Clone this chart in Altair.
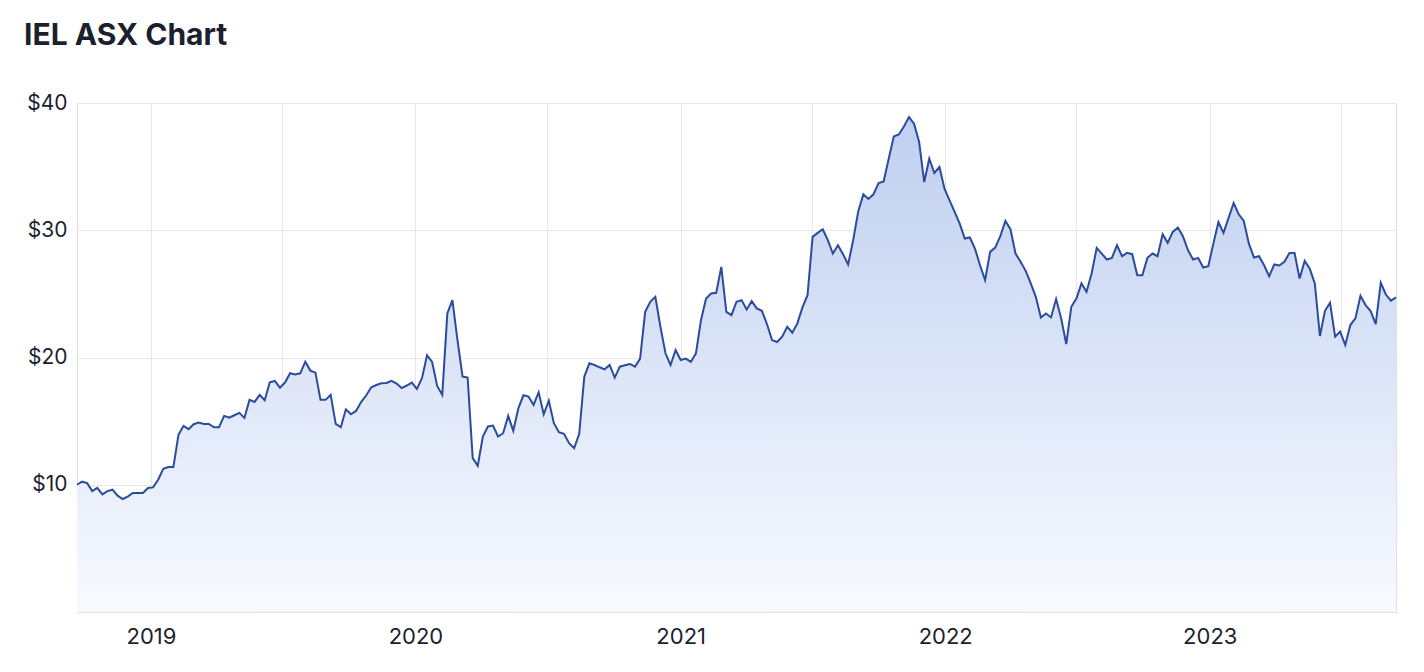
import altair as alt
import pandas as pd

# Weekly closing prices (AUD), first week ending 2018-09-21
start_date = "2018-09-21"
prices = [
    10.00, 10.24, 10.13, 9.50, 9.76, 9.24, 9.50, 9.61, 9.14, 8.88,
    9.07, 9.35, 9.35, 9.35, 9.74, 9.79, 10.39, 11.25, 11.39, 11.39,
    13.92, 14.63, 14.37, 14.76, 14.89, 14.78, 14.78, 14.52, 14.52, 15.41,
    15.28, 15.46, 15.65, 15.25, 16.67, 16.51, 17.06, 16.64, 18.05, 18.16,
    17.63, 18.03, 18.76, 18.66, 18.76, 19.67, 18.97, 18.81, 16.67, 16.67,
    17.06, 14.78, 14.52, 15.93, 15.54, 15.80, 16.50, 17.01, 17.66, 17.84,
    17.97, 18.00, 18.16, 17.95, 17.60, 17.80, 18.03, 17.53, 18.37, 20.17,
    19.65, 17.76, 17.06, 23.46, 24.51, 21.37, 18.50, 18.42, 12.09, 11.49,
    13.79, 14.58, 14.65, 13.79, 14.05, 15.41, 14.24, 16.01, 17.03, 16.93,
    16.27, 17.27, 15.54, 16.61, 14.84, 14.13, 14.00, 13.27, 12.88, 14.00,
    18.50, 19.54, 19.41, 19.23, 19.07, 19.41, 18.42, 19.28, 19.39, 19.49,
    19.28, 19.91, 23.59, 24.38, 24.77, 22.42, 20.33, 19.41, 20.59, 19.80,
    19.91, 19.65, 20.33, 22.94, 24.64, 25.03, 25.08, 27.12, 23.59, 23.33,
    24.38, 24.51, 23.78, 24.43, 23.86, 23.67, 22.63, 21.37, 21.22, 21.63,
    22.42, 21.95, 22.68, 23.94, 24.90, 29.48, 29.79, 30.08, 29.22, 28.17,
    28.82, 28.12, 27.31, 29.22, 31.49, 32.82, 32.46, 32.82, 33.71, 33.84,
    35.62, 37.37, 37.53, 38.16, 38.89, 38.37, 36.93, 33.79, 35.62, 34.50,
    34.97, 33.27, 32.35, 31.44, 30.52, 29.35, 29.43, 28.56, 27.25, 26.08,
    28.30, 28.64, 29.53, 30.73, 30.08, 28.17, 27.52, 26.81, 25.82, 24.77,
    23.15, 23.46, 23.15, 24.59, 23.07, 21.06, 23.99, 24.64, 25.82, 25.16,
    26.60, 28.61, 28.17, 27.70, 27.83, 28.82, 27.96, 28.22, 28.12, 26.47,
    26.47, 27.83, 28.17, 27.96, 29.69, 29.01, 29.87, 30.21, 29.53, 28.43,
    27.70, 27.83, 27.07, 27.18, 28.95, 30.65, 29.79, 30.97, 32.14, 31.25,
    30.73, 28.95, 27.86, 27.96, 27.25, 26.39, 27.31, 27.23, 27.52, 28.22,
    28.22, 26.21, 27.59, 26.97, 25.82, 21.69, 23.67, 24.30, 21.63, 22.03,
    20.98, 22.55, 23.07, 24.85, 24.12, 23.65, 22.63, 25.87, 24.95, 24.46,
    24.72,
]
grid_years = [2019, 2020, 2021, 2022, 2023]
grid_months = [1, 7]
price_ticks = [10, 20, 30, 40]
title_text = ["IEL ASX Chart"]

dates = pd.date_range(start_date, periods=len(prices), freq="7D").strftime("%Y-%m-%d").tolist()
df = pd.DataFrame({"date": dates, "price": prices})

grid_dates = [alt.DateTime(year=y, month=m, date=1, utc=True) for y in grid_years for m in grid_months]

FONT = "Inter"
TEXT = "#1c1f2e"
GRID = "#e7e7e7"

x_axis = alt.Axis(
    values=grid_dates,
    labelExpr="utcFormat(datum.value, '%m') == '01' ? utcFormat(datum.value, '%Y') : ''",
    grid=True, gridColor=GRID, domain=False, ticks=False, tickSize=0,
    labelPadding=14, labelFontSize=22, labelColor=TEXT, labelFont=FONT, title=None,
    labelFlush=False, labelOverlap=False,
)
y_axis = alt.Axis(
    values=price_ticks,
    labelExpr="'$' + datum.value",
    grid=True, gridColor=GRID, domain=False, ticks=False, tickSize=0,
    labelPadding=10, labelFontSize=21, labelColor=TEXT, labelFont=FONT, title=None,
)

base = alt.Chart(df).encode(
    x=alt.X("date:T", scale=alt.Scale(type="utc", nice=False), axis=x_axis),
    y=alt.Y("price:Q", scale=alt.Scale(domain=[0, 40], nice=False), axis=y_axis),
)

gradient = alt.Gradient(
    gradient="linear",
    stops=[
        alt.GradientStop(color="#bfcff0", offset=0),
        alt.GradientStop(color="#f8faff", offset=1),
    ],
    x1=0, x2=0, y1=0, y2=1,
)

area = base.mark_area(color=gradient)
line = base.mark_line(color="#2b4c9c", strokeWidth=2)

title = alt.Chart(pd.DataFrame({"t": title_text})).mark_text(
    align="left", baseline="alphabetic", fontSize=30, fontWeight=700, font=FONT, color=TEXT,
).encode(text="t:N", x=alt.value(-53), y=alt.value(-58))

chart = (
    alt.layer(area, line, title)
    .properties(
        width=1319,
        height=509,
        autosize=alt.AutoSizeParams(type="none"),
        padding={"left": 69, "top": 95, "right": 20, "bottom": 50},
    )
    .configure_view(stroke="#e0e0e0", strokeWidth=1)
)

chart.save("out.html", embed_options={"renderer": "svg", "actions": False})
